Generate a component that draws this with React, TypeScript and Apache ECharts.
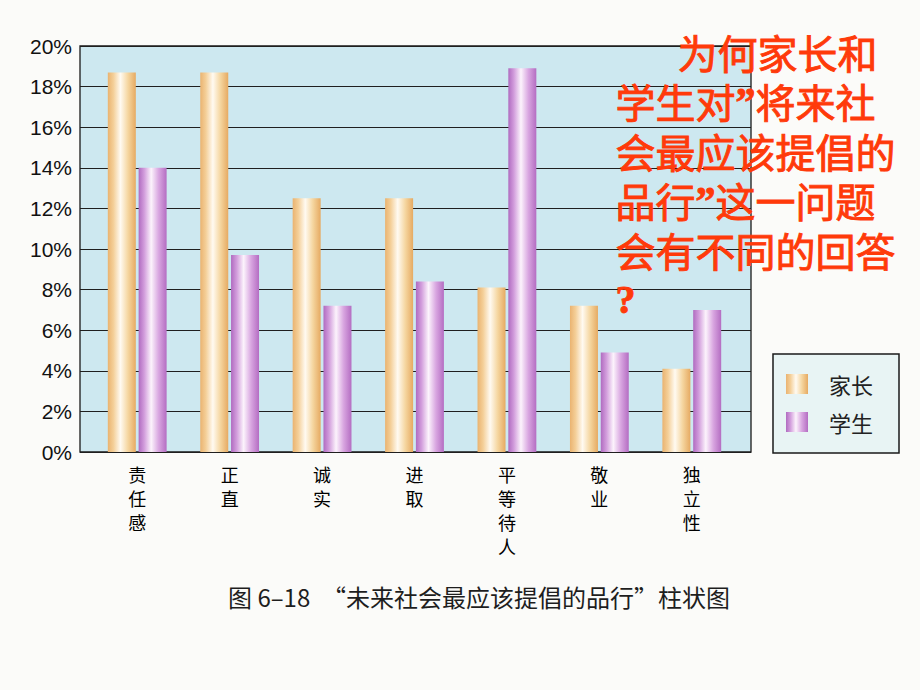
import React, { useEffect, useRef } from "react";
import * as echarts from "echarts";

// 家长 / 学生 对"未来社会最应该提倡的品行"的选择比例 (%)
const categories = ["责任感", "正直", "诚实", "进取", "平等待人", "敬业", "独立性"];
const parentValues = [18.7, 18.7, 12.5, 12.5, 8.1, 7.2, 4.1];
const studentValues = [14.0, 9.7, 7.2, 8.4, 18.9, 4.9, 7.0];
const seriesNames = ["家长", "学生"];
const yMin = 0;
const yMax = 20;
const yStep = 2;

const questionLines = [
    "为何家长和",
    "学生对”将来社",
    "会最应该提倡的",
    "品行”这一问题",
    "会有不同的回答",
    "?",
];
const captionNumber = "图 6–18";
const captionTitle = "“未来社会最应该提倡的品行”柱状图";

const cjk = "'Noto Sans CJK SC', sans-serif";
const red = "#ff3a0a";
const lineGap = 49.5;

const orangeFill = () =>
    new echarts.graphic.LinearGradient(0, 0, 1, 0, [
        { offset: 0, color: "#eab370" },
        { offset: 0.2, color: "#f4cf98" },
        { offset: 0.45, color: "#fffaf1" },
        { offset: 0.72, color: "#f5d6a0" },
        { offset: 1, color: "#e6aa62" },
    ]);

const purpleFill = () =>
    new echarts.graphic.LinearGradient(0, 0, 1, 0, [
        { offset: 0, color: "#b06bc0" },
        { offset: 0.2, color: "#d29ddc" },
        { offset: 0.45, color: "#fcf3fc" },
        { offset: 0.72, color: "#d8a5e0" },
        { offset: 1, color: "#b46dc2" },
    ]);

const App: React.FC = () => {
    const chartRef = useRef<HTMLDivElement>(null);

    useEffect(() => {
        if (!chartRef.current) return;
        const chart = echarts.init(chartRef.current, undefined, { renderer: "svg" });

        // one text block: first line indented, quotes and "?" in a narrow serif
        const serif = "bold 40px 'Liberation Serif', serif";
        const questionText = questionLines
            .map((line, i) => {
                const body = line.replace(/”/g, "{q|”}").replace(/\?/g, "{q|?}");
                return i === 0 ? "{ind|}" + body : body;
            })
            .join("\n");

        chart.setOption({
            animation: false,
            backgroundColor: "#fbfbf9",
            grid: [
                {
                    left: 80,
                    top: 46,
                    width: 671,
                    height: 406,
                    show: true,
                    backgroundColor: "#cde8f0",
                    borderColor: "#1a1a1a",
                    borderWidth: 1.3,
                },
                { left: 91, top: 46, width: 647, height: 406 },
            ],
            xAxis: [
                { gridIndex: 0, type: "value", min: 0, max: 1, show: false },
                {
                    gridIndex: 1,
                    type: "category",
                    data: categories,
                    axisLine: { show: false },
                    axisTick: { show: false },
                    axisLabel: {
                        interval: 0,
                        margin: 10,
                        fontSize: 18,
                        lineHeight: 24,
                        color: "#000",
                        fontFamily: cjk,
                        formatter: (v: string) => v.split("").join("\n"),
                    },
                },
            ],
            yAxis: [
                {
                    gridIndex: 0,
                    type: "value",
                    min: yMin,
                    max: yMax,
                    interval: yStep,
                    axisLine: { show: false },
                    axisTick: { show: false },
                    axisLabel: {
                        formatter: "{value}%",
                        margin: 8,
                        fontSize: 21,
                        color: "#111",
                        fontFamily: "'Liberation Sans', Arial, sans-serif",
                    },
                    splitLine: { lineStyle: { color: "#1f1f1f", width: 1.2 } },
                },
                { gridIndex: 1, type: "value", min: yMin, max: yMax, show: false },
            ],
            legend: {
                orient: "vertical",
                left: 773,
                top: 354,
                icon: "rect",
                itemWidth: 22,
                itemHeight: 20,
                itemGap: 16,
                padding: [19, 26, 20, 13],
                backgroundColor: "#e8f4f4",
                borderColor: "#1a1a1a",
                borderWidth: 1.5,
                textStyle: {
                    fontSize: 22,
                    color: "#222",
                    fontFamily: cjk,
                    padding: [0, 0, 0, 16],
                },
                data: seriesNames,
            },
            series: [
                {
                    name: seriesNames[0],
                    type: "bar",
                    xAxisIndex: 1,
                    yAxisIndex: 1,
                    barWidth: 28,
                    barGap: "10%",
                    data: parentValues,
                    itemStyle: { color: orangeFill() },
                },
                {
                    name: seriesNames[1],
                    type: "bar",
                    xAxisIndex: 1,
                    yAxisIndex: 1,
                    barWidth: 28,
                    barGap: "10%",
                    data: studentValues,
                    itemStyle: { color: purpleFill() },
                },
            ],
            graphic: [
                {
                    type: "text",
                    left: 615,
                    top: 27,
                    z: 100,
                    style: {
                        text: questionText,
                        fill: red,
                        stroke: red,
                        lineWidth: 0.9,
                        font: `40px ${cjk}`,
                        lineHeight: lineGap,
                        rich: {
                            ind: { width: 62, lineHeight: lineGap },
                            q: { fill: red, font: serif, lineHeight: lineGap },
                        },
                    },
                },
                {
                    type: "text",
                    left: 228,
                    top: 584,
                    style: { text: captionNumber, fill: "#1e1e1e", font: `24px ${cjk}` },
                },
                {
                    type: "text",
                    right: 190,
                    top: 584,
                    style: { text: captionTitle, fill: "#1e1e1e", font: `24px ${cjk}` },
                },
            ],
        });

        return () => chart.dispose();
    }, []);

    return (
        <div
            ref={chartRef}
            style={{ position: "fixed", left: 0, top: 0, width: 920, height: 690 }}
        />
    );
};

export default App;
